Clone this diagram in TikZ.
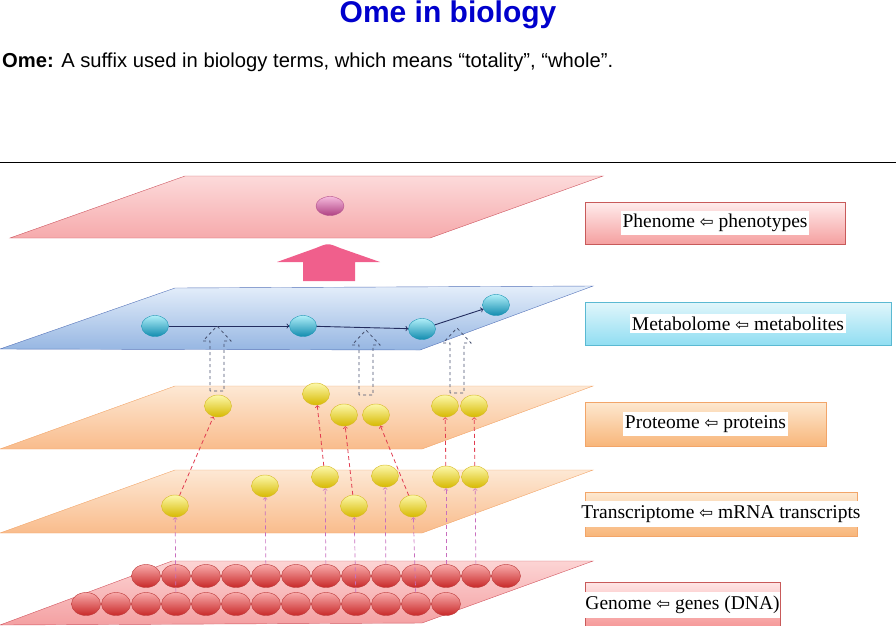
\documentclass[tikz,border=0pt]{standalone}
\usepackage{fontspec}
\setmainfont{Liberation Serif}
\setsansfont{Liberation Sans}
\newfontfamily\arrowfont{DejaVu Sans}
\usetikzlibrary{shapes.geometric}

\definecolor{titleblue}{RGB}{0,0,204}
\definecolor{pathnavy}{RGB}{35,45,95}
\definecolor{fluxgray}{RGB}{70,80,110}
\definecolor{transred}{RGB}{225,60,80}
\definecolor{transpurple}{RGB}{200,110,190}
\definecolor{upink}{RGB}{240,95,140}

\tikzset{
  bead/.style={ellipse,inner sep=0pt,line width=0.4pt},
  gene/.style={bead,draw={rgb,255:red,190;green,60;blue,60},top color={rgb,255:red,248;green,170;blue,170},middle color={rgb,255:red,228;green,78;blue,78},bottom color={rgb,255:red,200;green,40;blue,40},minimum width=29pt,minimum height=23pt},
  rna/.style={bead,draw={rgb,255:red,215;green,185;blue,40},top color={rgb,255:red,252;green,248;blue,170},middle color={rgb,255:red,242;green,225;blue,25},bottom color={rgb,255:red,215;green,185;blue,0},minimum width=27pt,minimum height=22pt},
  prot/.style={rna},
  metab/.style={bead,draw={rgb,255:red,30;green,150;blue,180},top color={rgb,255:red,175;green,238;blue,248},middle color={rgb,255:red,45;green,192;blue,218},bottom color={rgb,255:red,18;green,140;blue,175},minimum width=27pt,minimum height=21pt},
  trait/.style={bead,draw={rgb,255:red,180;green,80;blue,140},top color={rgb,255:red,245;green,185;blue,220},middle color={rgb,255:red,210;green,105;blue,165},bottom color={rgb,255:red,175;green,65;blue,130},minimum width=28pt,minimum height=19pt},
  transcribe/.style={->,draw=transpurple,dash pattern=on 4pt off 3pt,line width=0.7pt},
  translate/.style={->,draw=transred,dash pattern=on 4pt off 3pt,line width=0.8pt},
  pathway/.style={->,draw=pathnavy,line width=0.9pt},
  layerbox/.style={rectangle,inner sep=0pt,line width=0.8pt},
  tag/.style={fill=white,inner xsep=2pt,inner ysep=3pt,font=\fontsize{19.5}{20}\selectfont},
  fluxup/.pic={\draw[dashed,draw=fluxgray,line width=0.8pt] (-7,65) -- (-7,15) -- (-14,15) -- (0,0) -- (14,15) -- (7,15) -- (7,65) -- cycle;}
}

\begin{document}
\begin{tikzpicture}[x=1pt,y=-1pt]
      \useasboundingbox (0,0) rectangle (896,625);

      \node[font=\sffamily\bfseries\fontsize{30}{34}\selectfont,text=titleblue] (title) at (448,15) {Ome in biology};
      \node[anchor=west,inner sep=0pt,font=\sffamily\fontsize{20.2}{22}\selectfont] (def) at (2,62) {\textbf{Ome:} A suffix used in biology terms, which means “totality”, “whole”.};
      \draw[line width=1pt] (0,162) -- (896,162);

      \path[draw={rgb,255:red,205;green,85;blue,95},top color={rgb,255:red,252;green,218;blue,218},bottom color={rgb,255:red,246;green,170;blue,172}]
        (185,176) -- (603,176) -- (430,238) -- (10,238) -- cycle;
      \path[draw={rgb,255:red,85;green,115;blue,185},top color={rgb,255:red,228;green,238;blue,250},bottom color={rgb,255:red,150;green,182;blue,226}]
        (175,288) -- (593,286) -- (420,350) -- (0,349) -- cycle;
      \path[draw={rgb,255:red,242;green,165;blue,105},top color={rgb,255:red,253;green,232;blue,212},bottom color={rgb,255:red,249;green,188;blue,140}]
        (175,386) -- (593,386) -- (422,449) -- (0,449) -- cycle;
      \path[draw={rgb,255:red,242;green,165;blue,105},top color={rgb,255:red,253;green,232;blue,212},bottom color={rgb,255:red,249;green,188;blue,140}]
        (175,470) -- (593,470) -- (422,533) -- (0,533) -- cycle;
      \path[draw={rgb,255:red,210;green,85;blue,95},top color={rgb,255:red,252;green,212;blue,212},bottom color={rgb,255:red,244;green,160;blue,162}]
        (172,561) -- (593,561) -- (422,623) -- (0,625) -- cycle;

      \fill[upink] (303,281) -- (303,262) -- (277,262) -- (316,248) .. controls (328,243) .. (340,248) -- (380,262) -- (355,262) -- (355,281) -- cycle;

      \node[trait] (P) at (330,206) {};

      \node[metab] (M1) at (155,326) {};
      \node[metab] (M2) at (303,326) {};
      \node[metab] (M3) at (422,329) {};
      \node[metab] (M4) at (496,305) {};

      \node[prot] (Q1) at (218,406) {};
      \node[prot] (Q2) at (316,394) {};
      \node[prot] (Q3) at (344,415) {};
      \node[prot] (Q4) at (376,415) {};
      \node[prot] (Q5) at (445,406) {};
      \node[prot] (Q6) at (474,406) {};

      \node[rna] (R1) at (175,506) {};
      \node[rna] (R2) at (265,486) {};
      \node[rna] (R3) at (325,477) {};
      \node[rna] (R4) at (354,506) {};
      \node[rna] (R5) at (385,476) {};
      \node[rna] (R6) at (413,506) {};
      \node[rna] (R7) at (446,477) {};
      \node[rna] (R8) at (475,477) {};

      \node[gene] (G1) at (146,576) {};
      \node[gene] (G2) at (176,576) {};
      \node[gene] (G3) at (206,576) {};
      \node[gene] (G4) at (236,576) {};
      \node[gene] (G5) at (266,576) {};
      \node[gene] (G6) at (296,576) {};
      \node[gene] (G7) at (326,576) {};
      \node[gene] (G8) at (356,576) {};
      \node[gene] (G9) at (386,576) {};
      \node[gene] (G10) at (416,576) {};
      \node[gene] (G11) at (446,576) {};
      \node[gene] (G12) at (476,576) {};
      \node[gene] (G13) at (506,576) {};
      \node[gene] (H1) at (86,604) {};
      \node[gene] (H2) at (116,604) {};
      \node[gene] (H3) at (146,604) {};
      \node[gene] (H4) at (176,604) {};
      \node[gene] (H5) at (206,604) {};
      \node[gene] (H6) at (236,604) {};
      \node[gene] (H7) at (266,604) {};
      \node[gene] (H8) at (296,604) {};
      \node[gene] (H9) at (326,604) {};
      \node[gene] (H10) at (356,604) {};
      \node[gene] (H11) at (386,604) {};
      \node[gene] (H12) at (416,604) {};
      \node[gene] (H13) at (446,604) {};

      \draw[pathway] (M1) -- (M2);
      \draw[pathway] (M2) -- (M3);
      \draw[pathway] (M3) -- (M4);

      \pic at (217,326) {fluxup};
      \pic at (366,330) {fluxup};
      \pic at (457,328) {fluxup};

      \draw[translate] (R1) -- (Q1);
      \draw[translate] (R3) -- (Q2);
      \draw[translate] (R4) -- (Q3);
      \draw[translate] (R6) -- (Q4);
      \draw[translate] (R7) -- (Q5);
      \draw[translate] (R8) -- (Q6);

      \draw[transcribe] (H4) -- (R1);
      \draw[transcribe] (G5) -- (R2);
      \draw[transcribe] (G7) -- (R3);
      \draw[transcribe] (H10) -- (R4);
      \draw[transcribe] (G9) -- (R5);
      \draw[transcribe] (H12) -- (R6);
      \draw[transcribe] (G11) -- (R7);
      \draw[transcribe] (G12) -- (R8);

      \node[layerbox,draw={rgb,255:red,200;green,90;blue,90},top color={rgb,255:red,255;green,236;blue,236},bottom color={rgb,255:red,245;green,160;blue,160},minimum width=260pt,minimum height=42pt] (phenobox) at (715,223) {};
      \node[tag] at (phenobox) {Phenome {\arrowfont\fontsize{16.5}{17}\selectfont ⇦} phenotypes};
      \node[layerbox,draw={rgb,255:red,90;green,185;blue,210},top color={rgb,255:red,225;green,246;blue,251},bottom color={rgb,255:red,145;green,222;blue,242},minimum width=306pt,minimum height=43pt] (metabox) at (738,323.5) {};
      \node[tag] at (metabox) {Metabolome {\arrowfont\fontsize{16.5}{17}\selectfont ⇦} metabolites};
      \node[layerbox,draw={rgb,255:red,242;green,165;blue,105},top color={rgb,255:red,253;green,232;blue,208},bottom color={rgb,255:red,248;green,182;blue,122},minimum width=241pt,minimum height=44pt] (protbox) at (705.5,424) {};
      \node[tag] at (protbox) {Proteome {\arrowfont\fontsize{16.5}{17}\selectfont ⇦} proteins};
      \node[layerbox,draw={rgb,255:red,242;green,165;blue,105},top color={rgb,255:red,253;green,232;blue,208},bottom color={rgb,255:red,248;green,182;blue,122},minimum width=272pt,minimum height=44pt] (rnabox) at (721,514) {};
      \node[tag,inner ysep=4pt,inner xsep=0pt] at (rnabox) {Transcriptome {\arrowfont\fontsize{16.5}{17}\selectfont ⇦} mRNA transcripts};
      \node[layerbox,draw={rgb,255:red,200;green,90;blue,90},top color={rgb,255:red,255;green,230;blue,230},bottom color={rgb,255:red,245;green,150;blue,150},minimum width=195pt,minimum height=46pt] (genebox) at (682.5,605) {};
      \node[tag,inner ysep=4pt,inner xsep=0pt] at (genebox) {Genome {\arrowfont\fontsize{16.5}{17}\selectfont ⇦} genes (DNA)};
    \end{tikzpicture}
\end{document}
